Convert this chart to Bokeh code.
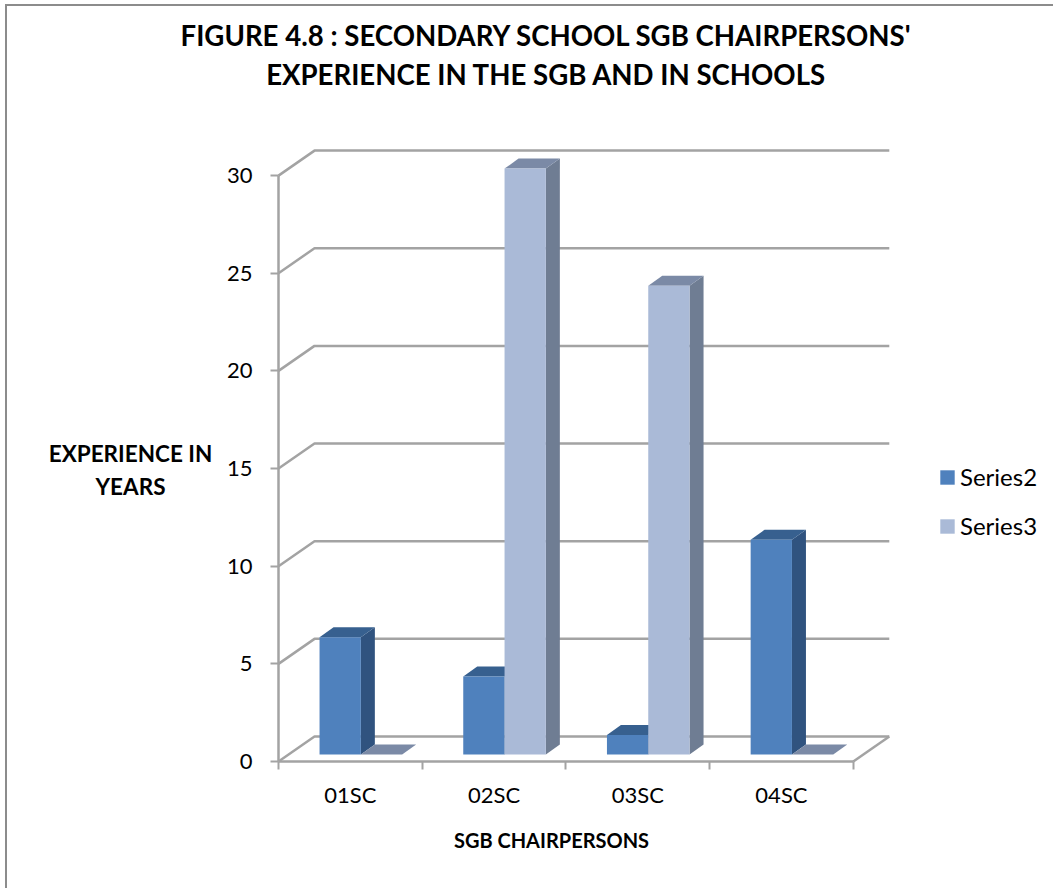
from bokeh.plotting import figure
from bokeh.embed import file_html
from bokeh.resources import INLINE
from bokeh.models import FixedTicker, Label, Legend, LegendItem, Range1d

categories = ["01SC", "02SC", "03SC", "04SC"]
series2 = [6, 4, 1, 11]
series3 = [0, 30, 24, 0]
y_ticks = [0, 5, 10, 15, 20, 25, 30]

FONT = "Lato"
GRID = "#a3a3a3"
FIG_L, FIG_T, FIG_W, FIG_H = 7, 6, 1048, 884
AXIS_X, AXIS_Y = 278, 761      # page position of the axes' origin
UX, UY = 143.7, 19.53          # pixels per category / per value
WALL_DX, WALL_DY = 36 / UX, 25 / UY
BAR_W = 41.3 / UX
BAR_DX, BAR_DY = 14 / UX, 10 / UY
BASE_X, BASE_Y = 10.5 / UX, 7 / UY

p = figure(width=FIG_W, height=FIG_H, output_backend="svg", toolbar_location=None,
           x_range=Range1d((FIG_L - AXIS_X) / UX, (FIG_L + FIG_W - AXIS_X) / UX),
           y_range=Range1d((AXIS_Y - FIG_T - FIG_H) / UY, (AXIS_Y - FIG_T) / UY),
           min_border=0)
p.styles = {"position": "absolute", "left": f"{FIG_L}px", "top": f"{FIG_T}px",
            "box-shadow": "-2px -2px 0 #8c8c8c"}
p.outline_line_color = None
p.grid.visible = False
p.background_fill_color = "white"

# walls and floor
n = len(categories)
for t in y_ticks:
    p.line([0, WALL_DX, n + WALL_DX], [t, t + WALL_DY, t + WALL_DY], line_color=GRID, line_width=2.5)
p.line([n, n + WALL_DX], [0, WALL_DY], line_color=GRID, line_width=2.5)


def box(x0, val, front, top, side):
    x1 = x0 + BAR_W
    y0 = BASE_Y
    y1 = BASE_Y + val
    glyph = None
    if val > 0:
        p.patch([x1, x1 + BAR_DX, x1 + BAR_DX, x1], [y0, y0 + BAR_DY, y1 + BAR_DY, y1], fill_color=side, line_color=None)
    p.patch([x0, x1, x1 + BAR_DX, x0 + BAR_DX], [y1, y1, y1 + BAR_DY, y1 + BAR_DY], fill_color=top, line_color=None)
    if val > 0:
        glyph = p.quad(left=x0, right=x1, bottom=y0, top=y1, fill_color=front, line_color=None)
    return glyph


rs2, rs3 = [], []
for i in range(n):
    x0 = i + 0.5 - BAR_W + BASE_X
    rs2.append(box(x0, series2[i], "#4f81bd", "#37608f", "#30537f"))
    rs3.append(box(x0 + BAR_W, series3[i], "#aabad7", "#7b8aa6", "#6f7d93"))

# axes
yax = p.yaxis[0]
yax.fixed_location = 0
yax.ticker = FixedTicker(ticks=y_ticks)
yax.bounds = (0, 30)
yax.axis_line_color = GRID
yax.axis_line_width = 2.5
yax.major_tick_line_color = GRID
yax.major_tick_line_width = 2
yax.major_tick_in = 0
yax.major_tick_out = 8
yax.minor_tick_line_color = None
yax.major_label_text_font = FONT
yax.major_label_text_font_size = "22px"
yax.major_label_text_color = "#000000"
yax.major_label_standoff = 18

xax = p.xaxis[0]
xax.fixed_location = 0
xax.ticker = FixedTicker(ticks=[i + 0.5 for i in range(n)], minor_ticks=list(range(n + 1)))
xax.major_label_overrides = {i + 0.5: c for i, c in enumerate(categories)}
xax.bounds = (0, n)
xax.axis_line_color = GRID
xax.axis_line_width = 2.5
xax.major_tick_line_color = None
xax.minor_tick_line_color = GRID
xax.minor_tick_line_width = 2
xax.minor_tick_in = 0
xax.minor_tick_out = 8
xax.major_label_text_font = FONT
xax.major_label_text_font_size = "22px"
xax.major_label_text_color = "#000000"
xax.major_label_standoff = 11


def lab(txt, cx, cy, size):
    p.add_layout(Label(x=cx - FIG_L, y=FIG_T + FIG_H - cy, x_units="screen", y_units="screen",
                       text=txt, text_font=FONT, text_font_style="bold", text_font_size=size,
                       text_color="#000000", text_align="center", text_baseline="middle"))


lab("FIGURE 4.8 : SECONDARY SCHOOL SGB CHAIRPERSONS'", 546, 35, "27.6px")
lab("EXPERIENCE IN THE SGB AND IN SCHOOLS", 546, 74, "27.6px")
lab("EXPERIENCE IN", 130, 453, "22.5px")
lab("YEARS", 130, 486, "22.5px")
lab("SGB CHAIRPERSONS", 551, 839, "20px")

legend = Legend(items=[LegendItem(label="Series2", renderers=[r for r in rs2 if r][:1]),
                       LegendItem(label="Series3", renderers=[r for r in rs3 if r][:1])],
                location=(931, 350), orientation="vertical", border_line_color=None,
                background_fill_color=None, glyph_width=18, glyph_height=18, label_standoff=4,
                spacing=20, padding=0, margin=0,
                label_text_font=FONT, label_text_font_size="24px", label_text_color="#000000")
p.add_layout(legend, "center")

open("out.html", "w").write(file_html(p, INLINE))
